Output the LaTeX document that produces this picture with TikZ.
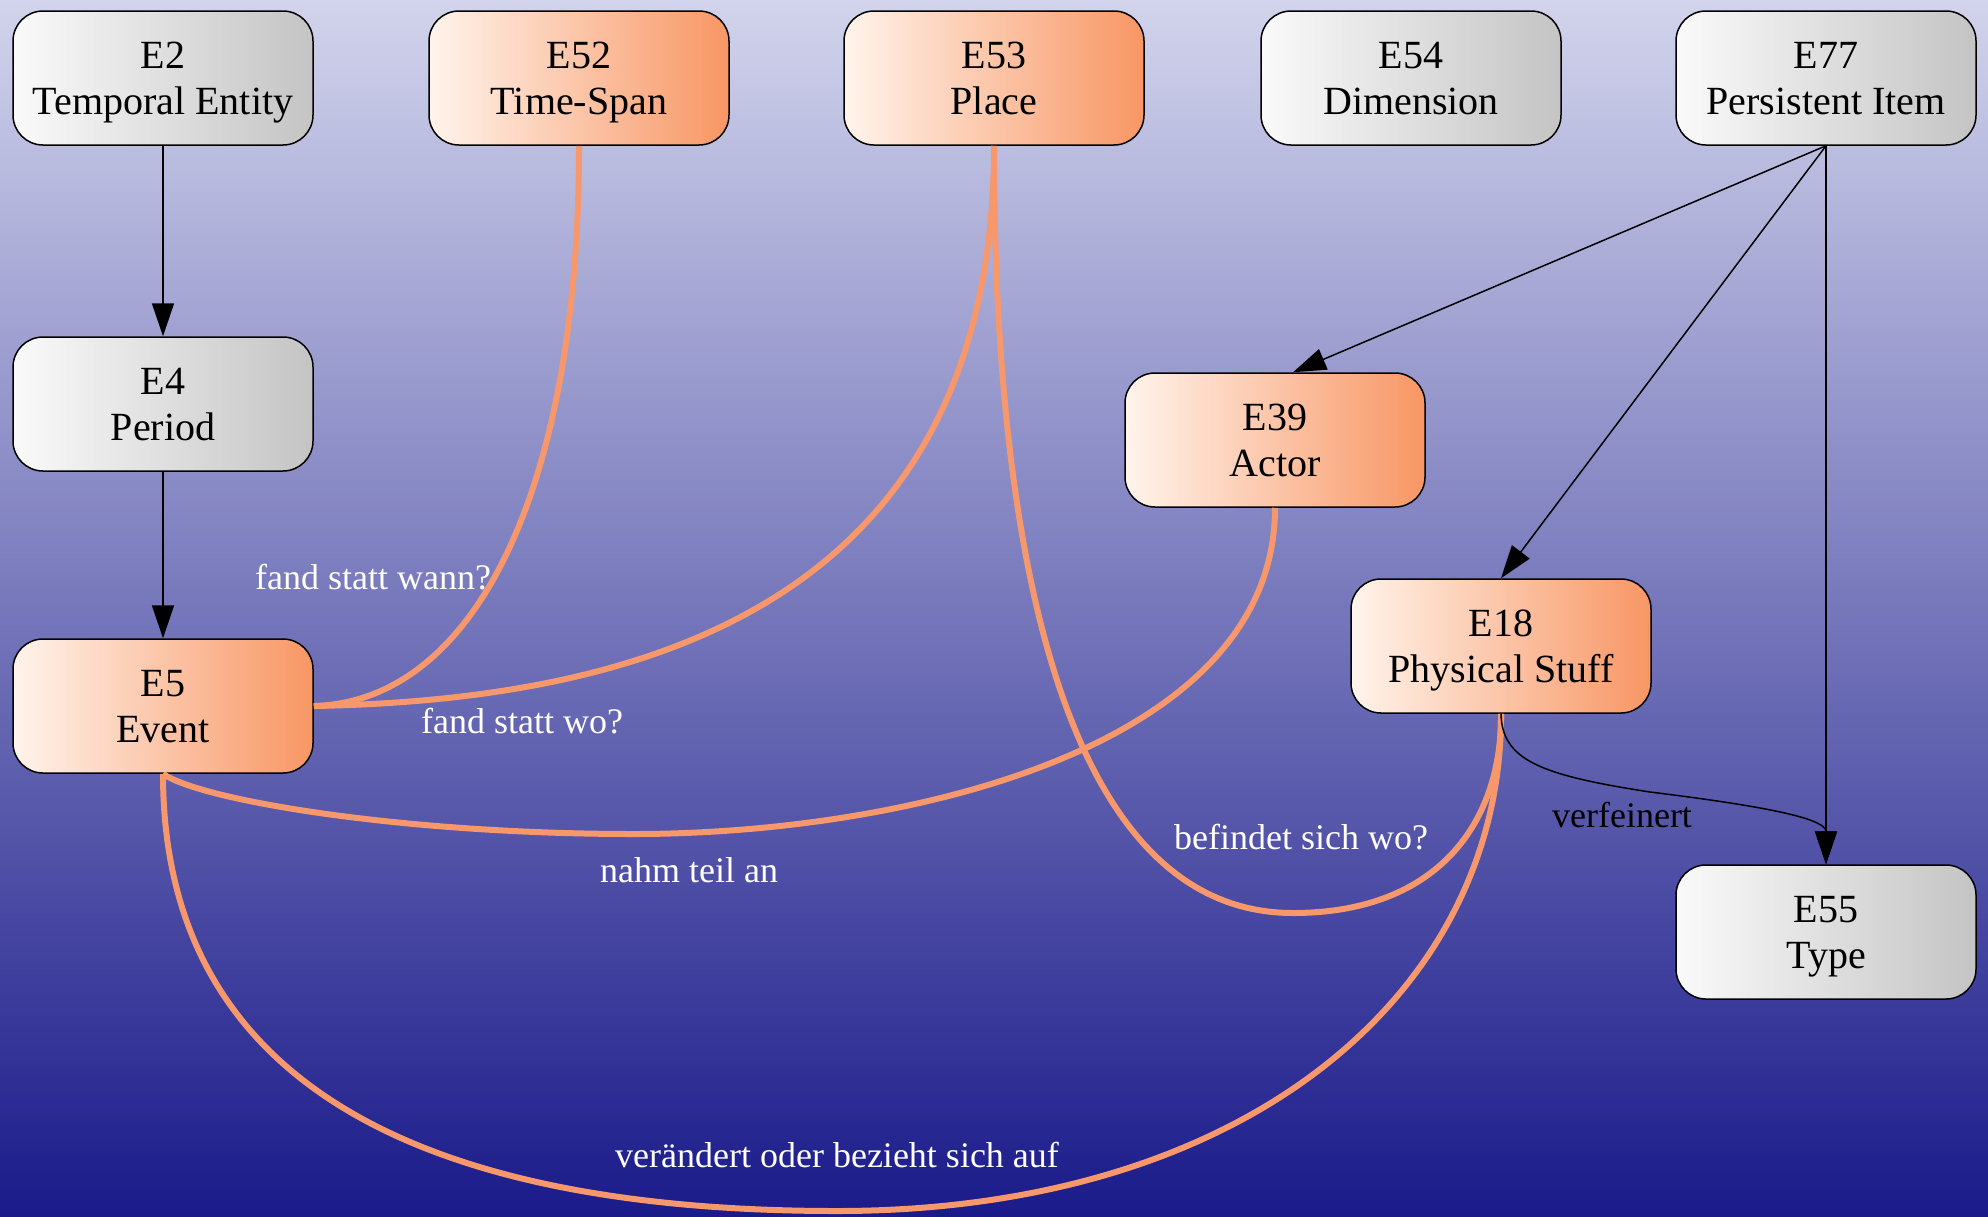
\documentclass[tikz,border=0pt]{standalone}
\usepackage{fontspec}
\setmainfont{Liberation Serif}
\usetikzlibrary{arrows.meta}
\definecolor{bgtop}{RGB}{210,212,236}
\definecolor{bgbot}{RGB}{26,26,138}
\definecolor{grayR}{RGB}{196,196,196}
\definecolor{grayL}{RGB}{250,250,250}
\definecolor{orgL}{RGB}{255,244,236}
\definecolor{orgR}{RGB}{248,150,100}
\definecolor{oline}{RGB}{246,152,108}
\newcommand{\twoline}[2]{\rule{0pt}{40pt}#1\\#2\strut}
\tikzset{
  ent/.style={draw=black, line width=1.5pt, rounded corners=30pt, minimum width=300pt,
    minimum height=134pt, inner sep=0pt, align=center,
    font=\fontsize{40}{46}\selectfont},
  grayent/.style={ent, left color=grayL, right color=grayR},
  orgent/.style={ent, left color=orgL, right color=orgR},
  isa/.style={draw=black, line width=1.5pt, -{Triangle[length=33pt,width=22pt]}},
  rel/.style={draw=oline, line width=6pt},
  lab/.style={text=white, font=\fontsize{36}{40}\selectfont, inner sep=0pt},
  blab/.style={lab, text=black}
}
\begin{document}
\begin{tikzpicture}[x=1pt,y=-1pt]
\fill[top color=bgtop, bottom color=bgbot] (0,0) rectangle (1988,1216);
\useasboundingbox (0,0) rectangle (1988,1216);

\node[grayent] (e2)  at (163,78)   {\twoline{E2}{Temporal Entity}};
\node[orgent]  (e52) at (579,78)   {\twoline{E52}{Time-Span}};
\node[orgent]  (e53) at (994,78)   {\twoline{E53}{Place}};
\node[grayent] (e54) at (1411,78)  {\twoline{E54}{Dimension}};
\node[grayent] (e77) at (1826,78)  {\twoline{E77}{Persistent Item}};
\node[grayent] (e4)  at (163,404)  {\twoline{E4}{Period}};
\node[orgent]  (e5)  at (163,706)  {\twoline{E5}{Event}};
\node[orgent]  (e39) at (1275,440) {\twoline{E39}{Actor}};
\node[orgent]  (e18) at (1501,646) {\twoline{E18}{Physical Stuff}};
\node[grayent] (e55) at (1826,932) {\twoline{E55}{Type}};

% orange relations
\draw[rel] (e5.east) .. controls (470,702) and (579,500) .. (e52.south);
\draw[rel] (e5.east) .. controls (650,700) and (994,600) .. (e53.south);
\draw[rel] (e5.south) .. controls (200,800) and (400,834) .. (634,834)
                      .. controls (900,834) and (1275,750) .. (e39.south);
\draw[rel] (e5.south) .. controls (163,1100) and (450,1211) .. (837,1211)
                      .. controls (1250,1211) and (1502,990) .. (e18.south);
\draw[rel] (e53.south) .. controls (994,600) and (1080,913) .. (1293,913)
                       .. controls (1440,913) and (1502,820) .. (e18.south);

% black is-a arrows
\draw[isa] (e2.south) -- (e4.north);
\draw[isa] (e4.south) -- (e5.north);
\draw[isa] (e77.south) -- ([xshift=18pt]e39.north);
\draw[isa] (e77.south) -- (e18.north);
\draw[isa] (e77.south) -- (e55.north);
\draw[isa] (e18.south) .. controls (1502,760) and (1540,775) .. (1650,792)
                       .. controls (1780,808) and (1826,820) .. (e55.north);

% labels
\node[lab]  (l1) at (373,577)  {fand statt wann?};
\node[lab]  (l2) at (522,721)  {fand statt wo?};
\node[lab]  (l3) at (689,870)  {nahm teil an};
\node[lab]  (l4) at (1301,837) {befindet sich wo?};
\node[blab] (l5) at (1622,815) {verfeinert};
\node[lab]  (l6) at (837,1155) {verändert oder bezieht sich auf};
\end{tikzpicture}
\end{document}
